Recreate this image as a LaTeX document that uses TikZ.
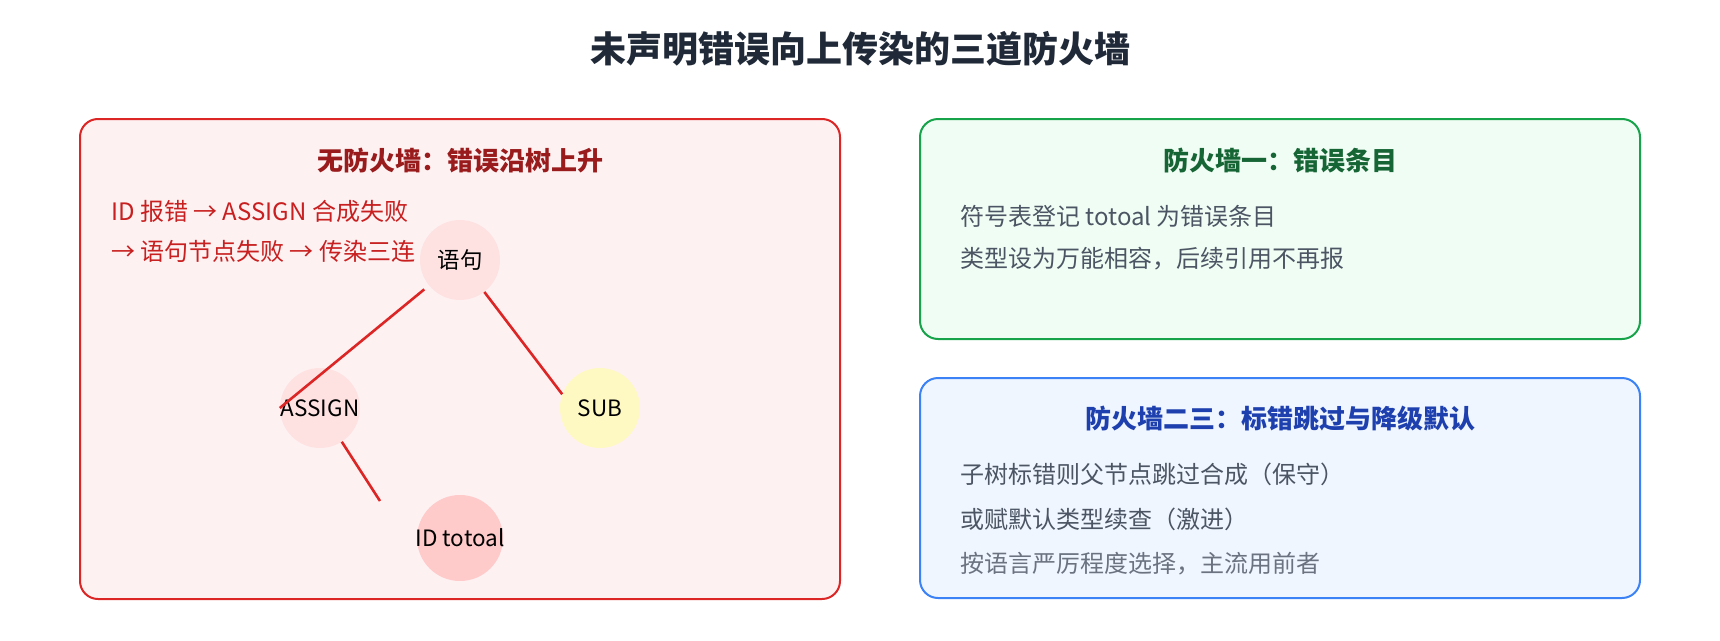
\documentclass[tikz,border=0pt]{standalone}
\usepackage{fontspec}
\setmainfont{Noto Sans CJK SC}
\usepackage{tikz}
\usetikzlibrary{arrows,shapes,positioning}
\usepackage{xcolor}
\definecolor{fwtitle}{RGB}{31,41,55}
\definecolor{fwred}{RGB}{220,38,38}
\definecolor{fwredbg}{RGB}{254,241,242}
\definecolor{fwreddark}{RGB}{153,27,27}
\definecolor{fwredtext}{RGB}{200,32,32}
\definecolor{fwpink}{RGB}{254,226,226}
\definecolor{fwpink2}{RGB}{254,202,202}
\definecolor{fwyellow}{RGB}{254,249,195}
\definecolor{fwgreen}{RGB}{22,163,74}
\definecolor{fwgreenbg}{RGB}{240,253,244}
\definecolor{fwgreendark}{RGB}{22,101,52}
\definecolor{fwblue}{RGB}{59,130,246}
\definecolor{fwbluebg}{RGB}{239,246,255}
\definecolor{fwbluedark}{RGB}{30,64,175}
\definecolor{fwgray}{RGB}{75,85,99}
\definecolor{fwgray2}{RGB}{107,114,128}
\tikzstyle{panel} = [rectangle, rounded corners=18pt, line width=2pt, inner sep=0pt]
\tikzstyle{paneltitle} = [font=\fontsize{26}{30}\selectfont\bfseries]
\tikzstyle{bodytext} = [anchor=west, inner sep=0pt, font=\fontsize{24}{28}\selectfont, color=fwgray]
\tikzstyle{treenode} = [circle, minimum size=80pt, inner sep=0pt, font=\fontsize{22.5}{26}\selectfont]
\tikzstyle{edge} = [line width=2.6pt, color=fwred]

\begin{document}
\begin{tikzpicture}[x=1pt, y=-1pt]
\useasboundingbox (0,0) rectangle (1720,640);

\node (title) [font=\fontsize{36}{40}\selectfont\bfseries, color=fwtitle] at (860,49) {未声明错误向上传染的三道防火墙};

\node (nofire) [panel, draw=fwred, fill=fwredbg, minimum width=760pt, minimum height=480pt] at (460,359) {};
\node (nofiretitle) [paneltitle, color=fwreddark] at (460,161) {无防火墙：错误沿树上升};
\node (nofire1) [bodytext, color=fwredtext] at (111,211) {ID 报错 → ASSIGN 合成失败};
\node (nofire2) [bodytext, color=fwredtext] at (111,251) {→ 语句节点失败 → 传染三连};

\node (yuju) [treenode, fill=fwpink] at (460,260) {语句};
\node (assign) [treenode, fill=fwpink] at (320,408) {\makebox[0pt]{ASSIGN}};
\node (sub) [treenode, fill=fwyellow] at (600,408) {SUB};
\node (idtot) [treenode, fill=fwpink2, minimum size=86pt] at (460,538) {\makebox[0pt]{ID totoal}};
\coordinate (idend) at (380,501);

\draw[edge, shorten <=6pt] (yuju) -- (assign.west);
\draw[edge] (yuju) -- (sub.160);
\draw[edge] (assign) -- (idend);

\node (fwone) [panel, draw=fwgreen, fill=fwgreenbg, minimum width=720pt, minimum height=220pt] at (1280,229) {};
\node (fwonetitle) [paneltitle, color=fwgreendark] at (1280,161) {防火墙一：错误条目};
\node (fwone1) [bodytext] at (960,216) {符号表登记 totoal 为错误条目};
\node (fwone2) [bodytext] at (960,259) {类型设为万能相容，后续引用不再报};

\node (fwtwo) [panel, draw=fwblue, fill=fwbluebg, minimum width=720pt, minimum height=220pt] at (1280,488) {};
\node (fwtwotitle) [paneltitle, color=fwbluedark] at (1280,419) {防火墙二三：标错跳过与降级默认};
\node (fwtwo1) [bodytext] at (960,474) {子树标错则父节点跳过合成（保守）};
\node (fwtwo2) [bodytext] at (960,519) {或赋默认类型续查（激进）};
\node (fwtwo3) [bodytext, color=fwgray2] at (960,564) {按语言严厉程度选择，主流用前者};
\end{tikzpicture}
\end{document}
